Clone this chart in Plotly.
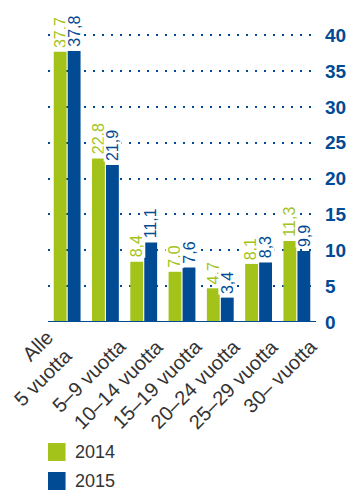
import plotly.graph_objects as go

categories = ["Alle<br>5 vuotta", "5–9 vuotta", "10–14 vuotta", "15–19 vuotta",
              "20–24 vuotta", "25–29 vuotta", "30– vuotta"]
values_2014 = [37.7, 22.8, 8.4, 7.0, 4.7, 8.1, 11.3]
values_2015 = [37.8, 21.9, 11.1, 7.6, 3.4, 8.3, 9.9]
series_names = ["2014", "2015"]
tick_vals = [0, 5, 10, 15, 20, 25, 30, 35, 40]

GREEN = "#a3c31b"
BLUE = "#004b93"
FONT = "Liberation Sans, Arial, sans-serif"

W, H = 359, 492
ML, MR, MT, MB = 48, 36, 33, 170
BARGAP, GROUPGAP = 0.27, 0.08

def fmt(v):
    return f"{v:.1f}".replace(".", ",")

series = [(series_names[0], values_2014, GREEN), (series_names[1], values_2015, BLUE)]

fig = go.Figure()
for name, vals, col in series:
    fig.add_trace(go.Bar(
        x=categories, y=vals, name=name, marker_color=col, marker_line_width=0,
        cliponaxis=False, showlegend=False,
    ))

fig.update_layout(
    width=W, height=H,
    margin=dict(l=ML, r=MR, t=MT, b=MB),
    paper_bgcolor="white", plot_bgcolor="white",
    barmode="group", bargap=BARGAP, bargroupgap=GROUPGAP,
    font=dict(family=FONT, color="#333333"),
    xaxis=dict(showticklabels=False, showline=False, ticks="", showgrid=False,
               type="category", categoryorder="array", categoryarray=categories,
               range=[-0.5, len(categories) - 0.5]),
    yaxis=dict(side="right", range=[0, 40.3], tickvals=tick_vals,
               tickfont=dict(size=19, color=BLUE, family=FONT, weight="bold"),
               showgrid=True, gridcolor=BLUE, gridwidth=2, griddash="2px,7px",
               zeroline=False, showline=False, ticks="", ticklabelstandoff=8),
)
# axis baseline
fig.add_shape(type="line", xref="paper", yref="y", x0=0, x1=1, y0=0, y1=0,
              line=dict(color=BLUE, width=2))

# value labels, rotated, above each bar (white box hides the dotted grid behind)
cat_px = (W - ML - MR) / len(categories)
slot_px = cat_px * (1 - BARGAP) / len(series)
for s_idx, (name, vals, col) in enumerate(series):
    offset = (s_idx - (len(series) - 1) / 2) * slot_px
    for i, v in enumerate(vals):
        fig.add_annotation(x=i, y=v, xref="x", yref="y", text=fmt(v), showarrow=False,
                           textangle=-90, xanchor="center", yanchor="bottom",
                           xshift=offset, yshift=3, bgcolor="white", borderpad=0,
                           font=dict(size=16, color=col, family=FONT))

# category labels, rotated 45 degrees
for i, cat in enumerate(categories):
    multi = "<br>" in cat
    fig.add_annotation(x=i, y=0, xref="x", yref="y", text=cat, showarrow=False,
                       textangle=-45, xanchor="right", yanchor="top", align="right",
                       xshift=12 if multi else 27, yshift=-1 if multi else -10,
                       font=dict(size=20, color="#333333", family=FONT))

# custom legend (paper coordinates below the plot area)
plot_h = H - MT - MB
for i, (name, _, col) in enumerate(series):
    top_px = 443 + i * 29
    bottom_px = top_px + 18
    y0 = -(bottom_px - (H - MB)) / plot_h
    y1 = -(top_px - (H - MB)) / plot_h
    fig.add_shape(type="rect", xref="paper", yref="paper",
                  x0=0, x1=18 / (W - ML - MR), y0=y0, y1=y1,
                  line_width=0, fillcolor=col)
    fig.add_annotation(xref="paper", yref="paper", x=26 / (W - ML - MR), y=(y0 + y1) / 2,
                       xanchor="left", yanchor="middle", text=name, showarrow=False,
                       font=dict(size=18, color="#333333", family=FONT))
fig.write_html("out.html", config={"displayModeBar": False},
               post_script="document.body.style.margin='0';document.body.style.overflow='hidden';")
